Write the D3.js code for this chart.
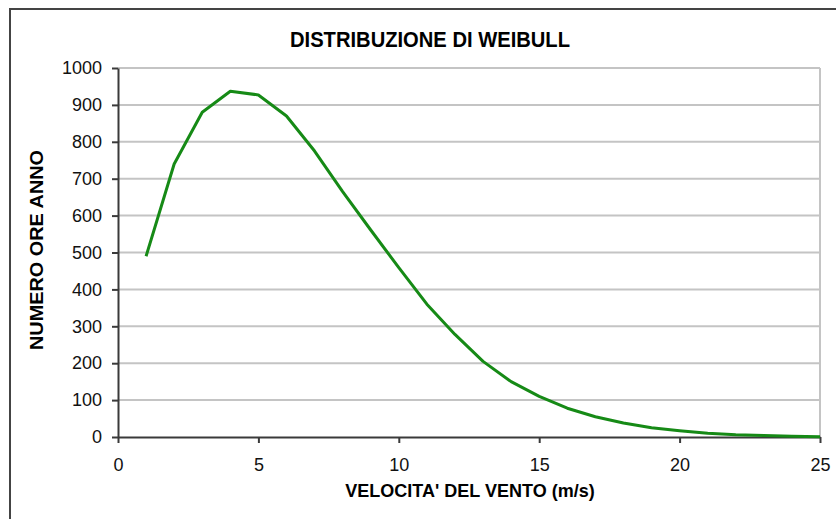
<!DOCTYPE html>
<html>
<head>
<meta charset="utf-8">
<script src="https://cdn.jsdelivr.net/npm/d3@7"></script>
<style>
    body { margin: 0; background: #fff; }
    .axis text { font-family: "Liberation Sans", Arial, sans-serif; font-size: 18px; fill: #111; }
    .axis path, .axis line { stroke: #3a3a3a; stroke-width: 2; }
</style>
</head>
<body>
<div id="chart"></div>
<script>
var speeds = [1, 2, 3, 4, 5, 6, 7, 8, 9, 10, 11, 12, 13, 14, 15, 16, 17, 18, 19, 20, 21, 22, 23, 24, 25];
var hours = [490, 740, 880, 937, 927, 870, 775, 665, 561, 459, 360, 278, 205, 150, 110, 78, 55, 38, 25, 17, 10, 6, 4, 2, 1];
var xTicks = [0, 5, 10, 15, 20, 25];
var yTicks = [0, 100, 200, 300, 400, 500, 600, 700, 800, 900, 1000];

var width = 836, height = 519;
var rect = { top: 68, right: 16, bottom: 82, left: 118 };
var w = width - rect.left - rect.right;
var h = height - rect.top - rect.bottom;

var svg = d3.select("#chart")
    .append("svg")
    .attr("width", width)
    .attr("height", height);

// outer frame
svg.append("rect")
    .attr("x", 10)
    .attr("y", 9)
    .attr("width", 840)
    .attr("height", 540)
    .attr("fill", "none")
    .attr("stroke", "#444")
    .attr("stroke-width", 2);

var x = d3.scaleLinear().domain([0, 25]).range([0, w]);
var y = d3.scaleLinear().domain([0, 1000]).range([h, 0]);

var g = svg.append("g")
    .attr("transform", "translate(" + rect.left + "," + rect.top + ")");

// gridlines
g.selectAll(".grid")
    .data(yTicks.slice(1))
    .enter()
    .append("line")
    .attr("x1", 0)
    .attr("x2", w)
    .attr("y1", function (d) { return y(d); })
    .attr("y2", function (d) { return y(d); })
    .attr("stroke", "#c4c4c4")
    .attr("stroke-width", 2);

g.append("line")
    .attr("x1", w)
    .attr("x2", w)
    .attr("y1", 0)
    .attr("y2", h)
    .attr("stroke", "#c4c4c4")
    .attr("stroke-width", 2);

g.append("g")
    .attr("class", "axis")
    .attr("transform", "translate(0," + h + ")")
    .call(d3.axisBottom(x).tickValues(xTicks).tickFormat(d3.format("d"))
        .tickSizeInner(6).tickSizeOuter(0).tickPadding(15));

g.append("g")
    .attr("class", "axis")
    .call(d3.axisLeft(y).tickValues(yTicks).tickFormat(d3.format("d"))
        .tickSizeInner(6).tickSizeOuter(0).tickPadding(10));

var line = d3.line()
    .x(function (d, i) { return x(speeds[i]); })
    .y(function (d) { return y(d); });

g.append("path")
    .datum(hours)
    .attr("d", line)
    .attr("fill", "none")
    .attr("stroke", "#168a16")
    .attr("stroke-width", 3)
    .attr("stroke-linejoin", "round");

svg.append("text")
    .attr("x", 430)
    .attr("y", 47)
    .attr("text-anchor", "middle")
    .attr("textLength", 280)
    .attr("lengthAdjust", "spacingAndGlyphs")
    .style("font-family", "'Liberation Sans', Arial, sans-serif")
    .style("font-weight", "bold")
    .style("font-size", "22px")
    .text("DISTRIBUZIONE DI WEIBULL");

svg.append("text")
    .attr("x", 470)
    .attr("y", 497)
    .attr("text-anchor", "middle")
    .style("font-family", "'Liberation Sans', Arial, sans-serif")
    .style("font-weight", "bold")
    .style("font-size", "18px")
    .text("VELOCITA' DEL VENTO (m/s)");

svg.append("text")
    .attr("transform", "translate(43,250) rotate(-90)")
    .attr("text-anchor", "middle")
    .attr("textLength", 200)
    .attr("lengthAdjust", "spacingAndGlyphs")
    .style("font-family", "'Liberation Sans', Arial, sans-serif")
    .style("font-weight", "bold")
    .style("font-size", "18px")
    .text("NUMERO ORE ANNO");
</script>
</body>
</html>
